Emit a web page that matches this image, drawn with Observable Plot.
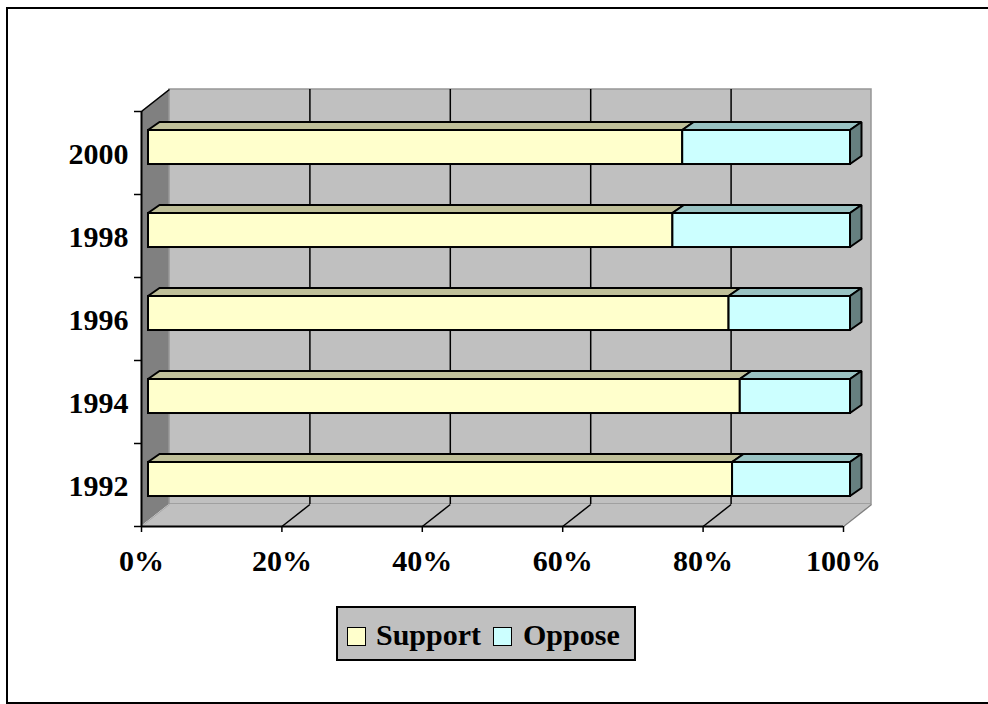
<!DOCTYPE html>
<html>
<head>
<meta charset="utf-8">
<script src="https://cdn.jsdelivr.net/npm/d3@7"></script>
<script src="https://cdn.jsdelivr.net/npm/@observablehq/plot@0.6"></script>
<style>
  html, body { margin: 0; padding: 0; background: #fff; }
  #wrap { position: relative; width: 988px; height: 704px; overflow: hidden; font-family: "Liberation Serif", "Times New Roman", serif; }
  #chart { position: absolute; left: 0; top: 0; }
  #frame { position: absolute; left: 6px; top: 7px; width: 1000px; height: 697px; box-sizing: border-box; border: 2px solid #000; pointer-events: none; }
  #legend { position: absolute; left: 336px; top: 606px; width: 300px; height: 55px; box-sizing: border-box; border: 2px solid #000; background: #c0c0c0; }
  .sw { position: absolute; top: 19px; width: 19px; height: 19px; box-sizing: border-box; border: 1.5px solid #000; }
  .lt { position: absolute; top: 12px; font-size: 30px; line-height: 30px; font-weight: bold; color: #000; white-space: nowrap; }
</style>
</head>
<body>
<div id="wrap">
  <div id="chart"></div>
  <div id="legend"></div>
  <div id="frame"></div>
</div>
<script>
// ---- data ----
const years = ["1992", "1994", "1996", "1998", "2000"];
const support = [83.2, 84.3, 82.7, 74.7, 76.1];
const oppose = [16.8, 15.7, 17.3, 25.3, 23.9];
const seriesNames = ["Support", "Oppose"];
const frontColors = ["#FFFFCC", "#CCFFFF"];
const topColors = ["#BFBF99", "#99C2C2"];
const sideColors = ["#808066", "#668080"];
const xTicks = [0, 20, 40, 60, 80, 100];

// ---- layout ----
const W = 988, H = 704;
const mL = 141, mR = 145, mT = 111, mB = 178;
const n = years.length;
const kx = (W - mL - mR) / 100;      // px per percent
const ky = (H - mT - mB) / n;        // px per category
// wall depth (px)
const DX = 28 / kx, DY = 22 / ky;
// bar offset into depth and bar depth (px)
const OX = 7 / kx, OY = 5.5 / ky;
const BDX = 11.5 / kx, BDY = 8 / ky;
const PAD = 0.295;

// segments
const segs = [];
years.forEach((yr, i) => {
  const tot = support[i] + oppose[i];
  const s = support[i] / tot * 100;
  segs.push({i, k: 0, a: 0, b: s});
  segs.push({i, k: 1, a: s, b: 100});
});
const fronts = segs.map(d => ({
  x1: d.a + OX, x2: d.b + OX,
  y1: d.i + PAD + OY, y2: d.i + 1 - PAD + OY,
  c: frontColors[d.k]
}));
const tops = [];
segs.forEach((d, j) => {
  const yt = d.i + 1 - PAD + OY;
  [0, 1].forEach(t => tops.push({
    key: j, x1: d.a + OX + t * BDX, x2: d.b + OX + t * BDX,
    y: yt + t * BDY, c: topColors[d.k]
  }));
});
const sides = [];
segs.filter(d => d.b === 100).forEach((d, j) => {
  const yb = d.i + PAD + OY, yt = d.i + 1 - PAD + OY;
  [0, 1].forEach(t => sides.push({
    key: j, x: d.b + OX + t * BDX, y1: yb + t * BDY, y2: yt + t * BDY, c: sideColors[d.k]
  }));
});

const leftWall = [{x: 0, y1: 0, y2: n}, {x: DX, y1: DY, y2: n + DY}];
const floor = [{y: 0, x1: 0, x2: 100}, {y: DY, x1: DX, x2: 100 + DX}];
const backWall = [{x1: DX, x2: 100 + DX, y1: DY, y2: n + DY}];
const innerTicks = xTicks.filter(t => t > 0 && t < 100);

const font = {fontSize: 30, fontWeight: "bold", fontFamily: "Liberation Serif, Times New Roman, serif"};

const plot = Plot.plot({
  width: W, height: H,
  marginLeft: mL, marginRight: mR, marginTop: mT, marginBottom: mB,
  x: {domain: [0, 100], label: null},
  y: {domain: [0, n], label: null},
  color: {type: "identity"},
  style: {background: "transparent", fontFamily: "Liberation Serif, Times New Roman, serif", fontWeight: "bold", fontSize: "30px", color: "#000"},
  marks: [
    // walls
    Plot.area(leftWall, {x1: "x", x2: "x", y1: "y1", y2: "y2", fill: "#808080"}),
    Plot.rect(backWall, {x1: "x1", x2: "x2", y1: "y1", y2: "y2", fill: "#c0c0c0", stroke: "#969696", strokeWidth: 1.5}),
    Plot.area(floor, {x1: "x1", x2: "x2", y1: "y", y2: "y", fill: "#c0c0c0"}),
    Plot.link([{x1: 100, y1: 0, x2: 100 + DX, y2: DY}], {x1: "x1", y1: "y1", x2: "x2", y2: "y2", stroke: "#808080", strokeWidth: 1.5}),
    Plot.link([{x1: 0, y1: 0, x2: DX, y2: DY}], {x1: "x1", y1: "y1", x2: "x2", y2: "y2", stroke: "#a8a8a8", strokeWidth: 1}),
    Plot.link([{x1: 0, y1: n, x2: DX, y2: n + DY}], {x1: "x1", y1: "y1", x2: "x2", y2: "y2", stroke: "#000", strokeWidth: 1.5}),
    // gridlines
    Plot.ruleX(innerTicks, {x: d => d + DX, y1: DY, y2: n + DY, stroke: "#000", strokeWidth: 1.5}),
    Plot.link(innerTicks, {x1: d => d, y1: 0, x2: d => d + DX, y2: DY, stroke: "#000", strokeWidth: 1.5}),
    // axis lines
    Plot.ruleX([0], {y1: 0, y2: n, stroke: "#000", strokeWidth: 2}),
    Plot.ruleY([0], {x1: 0, x2: 100, stroke: "#000", strokeWidth: 2}),
    // bars
    Plot.rect(fronts, {x1: "x1", x2: "x2", y1: "y1", y2: "y2", fill: "c", stroke: "#000", strokeWidth: 2}),
    Plot.area(tops, {x1: "x1", x2: "x2", y1: "y", y2: "y", z: "key", fill: "c", stroke: "#000", strokeWidth: 2, strokeLinejoin: "miter"}),
    Plot.area(sides, {x1: "x", x2: "x", y1: "y1", y2: "y2", z: "key", fill: "c", stroke: "#000", strokeWidth: 2, strokeLinejoin: "miter"}),
    // axes
    Plot.axisX({ticks: xTicks, tickSize: 6, tickPadding: 17, tickFormat: d => d + "%", strokeWidth: 1.5, ...font}),
    Plot.axisY({ticks: d3.range(0, n + 1), tickSize: 7, tickFormat: () => "", strokeWidth: 1.5}),
    Plot.axisY({ticks: years.map((_, i) => i + 0.5), tickSize: 0, tickPadding: 13, dy: 1, tickFormat: d => years[Math.floor(d)], ...font})
  ]
});
document.getElementById("chart").appendChild(plot);

// legend
const legend = document.getElementById("legend");
const swLeft = [9, 155], txtLeft = [38, 185];
seriesNames.forEach((name, k) => {
  const sw = document.createElement("div");
  sw.className = "sw";
  sw.style.left = swLeft[k] + "px";
  sw.style.background = frontColors[k];
  legend.appendChild(sw);
  const t = document.createElement("div");
  t.className = "lt";
  t.style.left = txtLeft[k] + "px";
  t.textContent = name;
  legend.appendChild(t);
});
</script>
</body>
</html>
